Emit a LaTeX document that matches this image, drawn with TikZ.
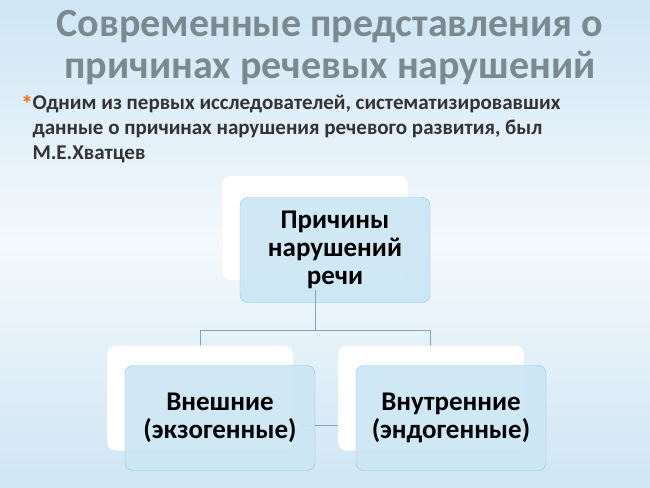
\documentclass[tikz,border=0pt]{standalone}
\usepackage{fontspec}
\setmainfont{Carlito}
\usepackage{tikz}
\definecolor{bgtop}{HTML}{CFE6F5}
\definecolor{bgmid}{HTML}{F4F9FC}
\definecolor{titlegray}{HTML}{7C8A90}
\definecolor{boxfill}{HTML}{CCE6F4}
\definecolor{boxline}{HTML}{8CC6E2}
\definecolor{linkline}{HTML}{7FA6B8}
\tikzset{
  backbox/.style={draw=white!85!gray,fill=white,rounded corners=8pt,minimum width=186pt,minimum height=105pt},
  frontbox/.style={draw=boxline,fill=boxfill,fill opacity=0.92,text opacity=1,rounded corners=8pt,minimum width=190pt,minimum height=105pt,align=center,font=\bfseries\fontsize{27}{28}\selectfont},
  link/.style={draw=linkline,line width=0.8pt}
}
\begin{document}
\begin{tikzpicture}[x=1pt,y=-1pt]
        \shade[top color=bgtop,bottom color=bgtop,middle color=bgmid] (0,0) rectangle (650,487);
        \useasboundingbox (0,0) rectangle (650,487);

        % title
        \node[text=titlegray,font=\bfseries\fontsize{40}{42}\selectfont,align=center] (title) at (330,48) {Современные представления о\\причинах речевых нарушений};
        \node[text=orange!80!red,font=\bfseries\fontsize{24}{24}\selectfont] (star) at (27,104) {*};
        \node[anchor=north west,text=black!80,font=\bfseries\fontsize{21}{25}\selectfont,align=left] (intro) at (29,92) {Одним из первых исследователей, систематизировавших\\данные о причинах нарушения речевого развития, был\\М.Е.Хватцев};

        % connectors
        \coordinate (top) at (315,310);
        \coordinate (split) at (315,330);
        \coordinate (lsplit) at (200,330);
        \coordinate (rsplit) at (430,330);
        \coordinate (lin) at (200,347);
        \coordinate (rin) at (430,347);
        \coordinate (lmid) at (300,425);
        \coordinate (rmid) at (360,425);
        \draw[link] (top) -- (split);
        \draw[link] (lsplit) -- (rsplit);
        \draw[link] (lsplit) -- (lin);
        \draw[link] (rsplit) -- (rin);
        \draw[link] (lmid) -- (rmid);

        % boxes
        \node[backbox] (causeback) at (315,228) {};
        \node[frontbox] (cause) at (335,250) {Причины\\нарушений\\речи};
        \node[backbox] (extback) at (200,398) {};
        \node[frontbox] (ext) at (220,418) {Внешние\\(экзогенные)};
        \node[backbox] (intback) at (431,398) {};
        \node[frontbox] (int) at (451,418) {Внутренние\\(эндогенные)};
        \draw[link] (315,290) -- (top);
    \end{tikzpicture}
\end{document}
